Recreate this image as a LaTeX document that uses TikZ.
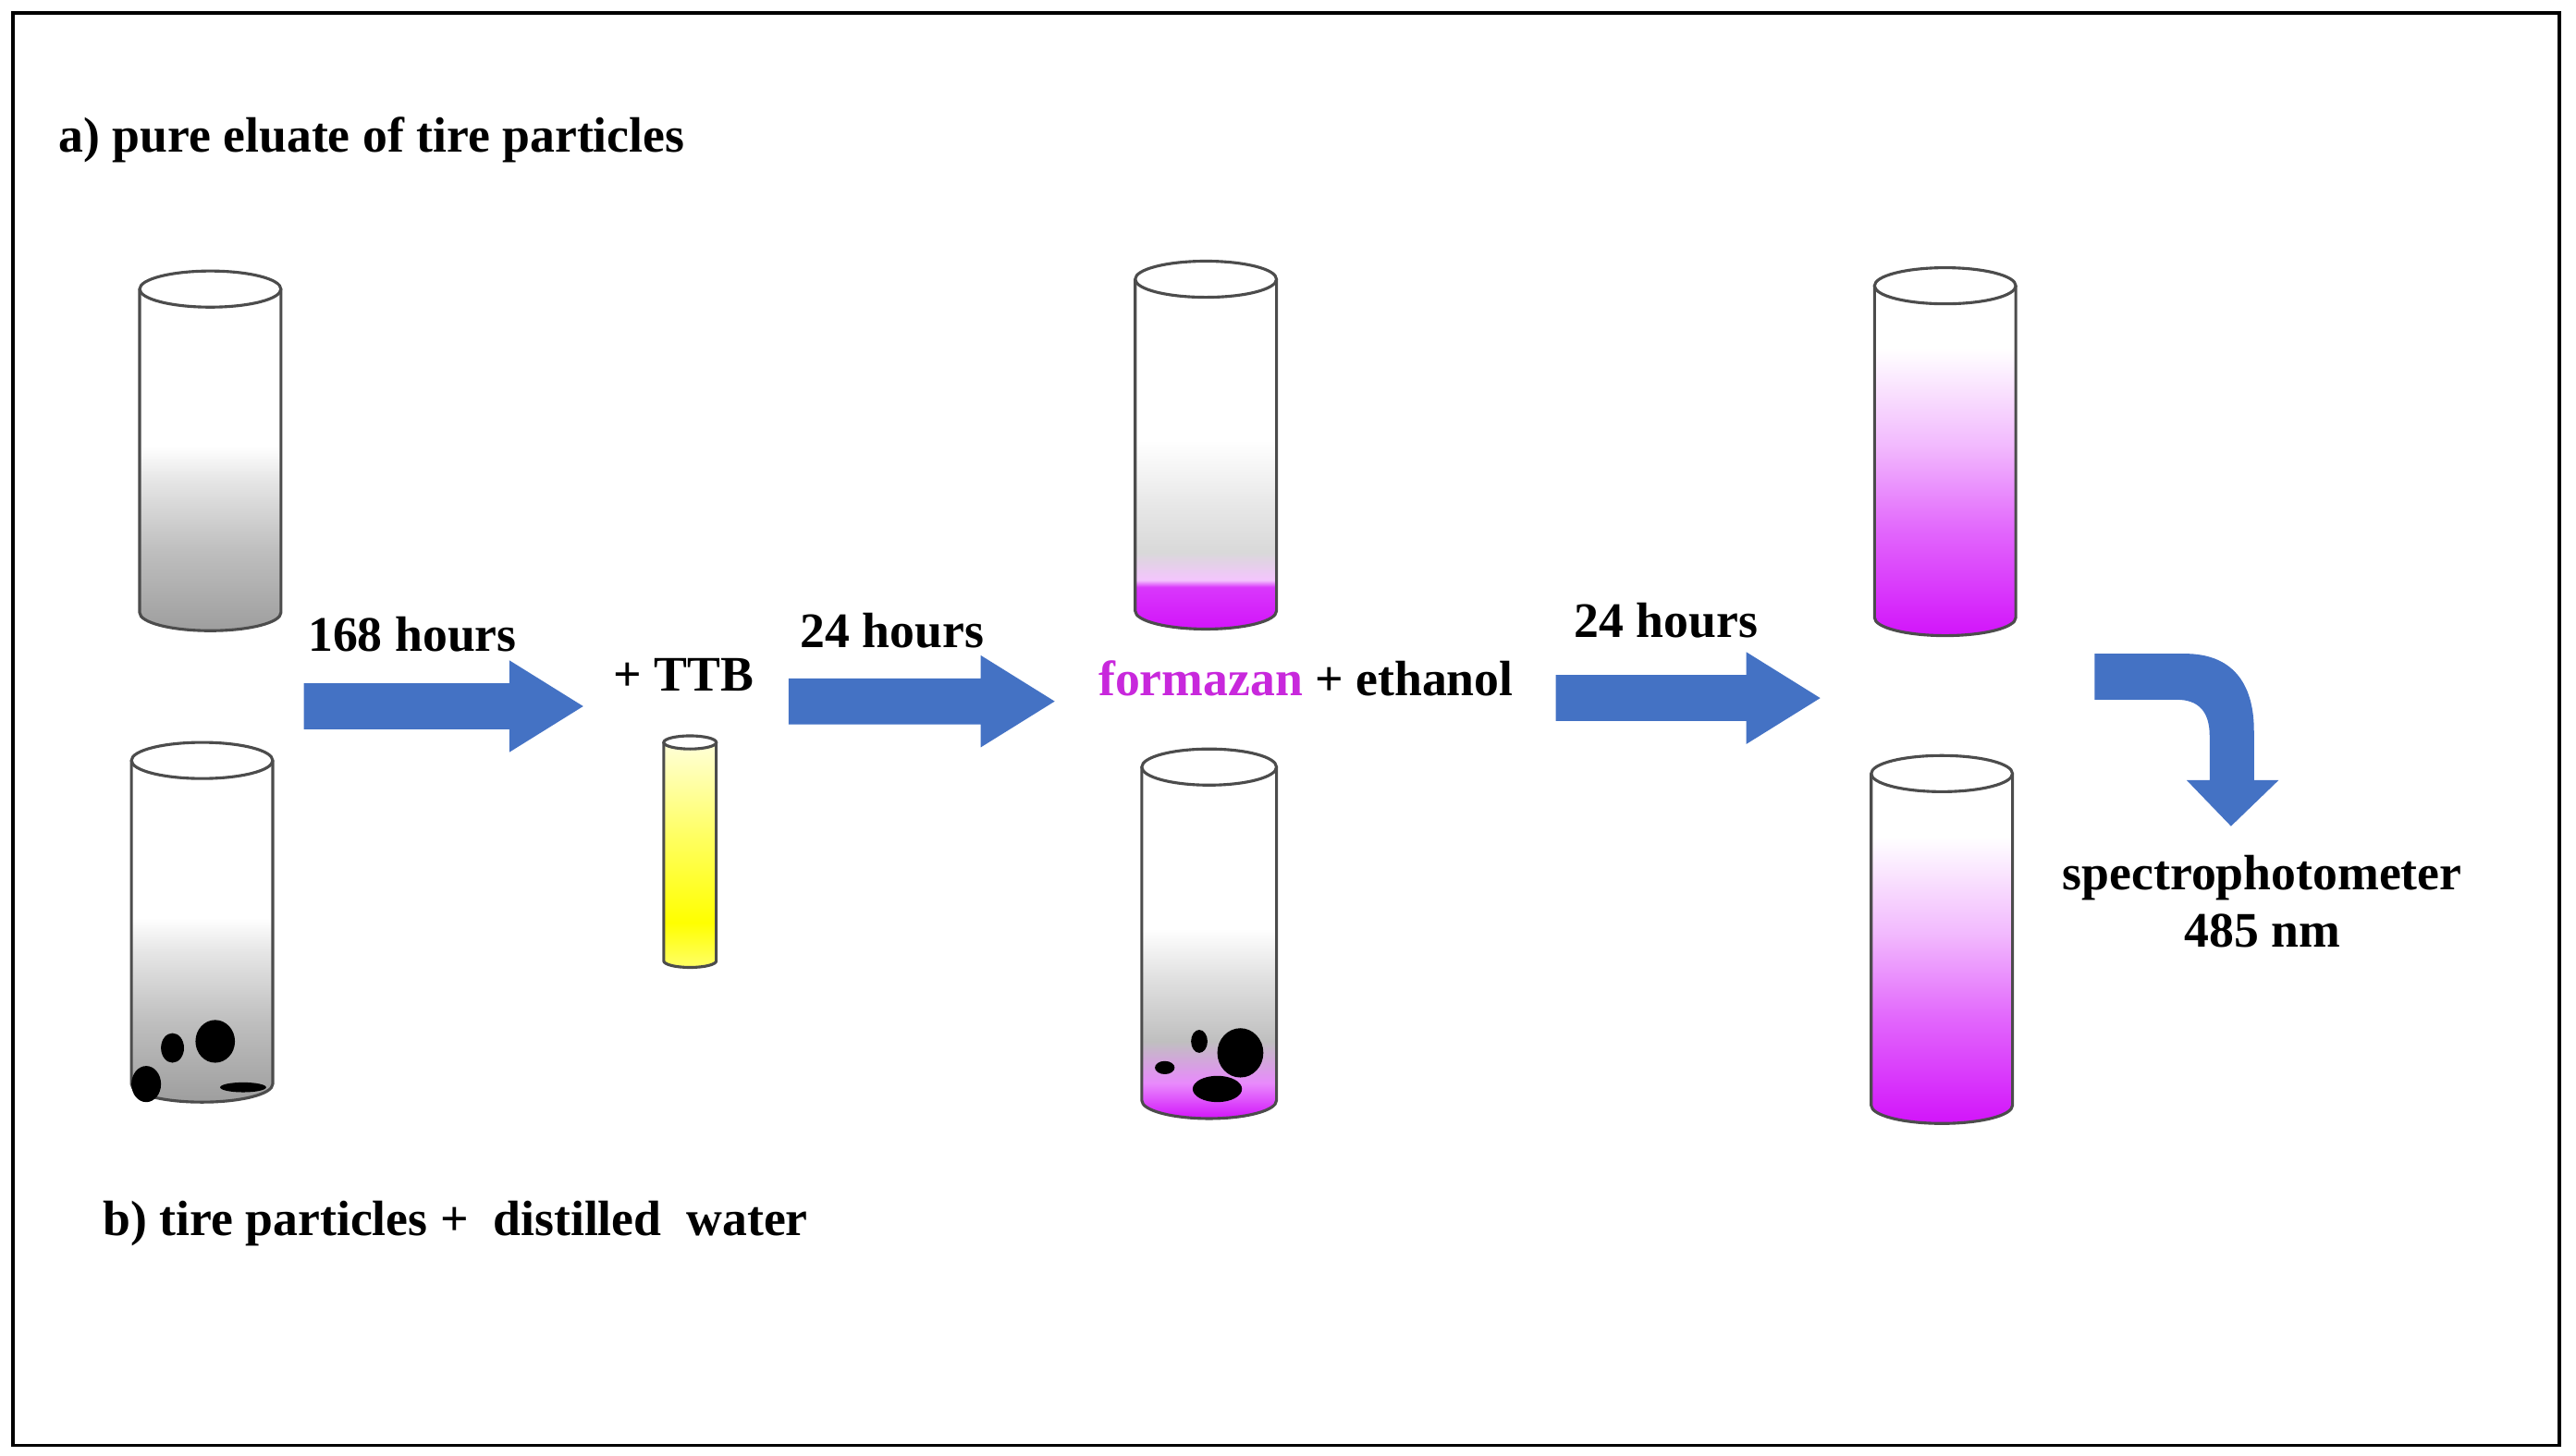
\documentclass[tikz,border=0pt]{standalone}
\usepackage{fontspec}
\setmainfont{Liberation Serif}
\begin{document}
\definecolor{arrowblue}{RGB}{68,114,196}
\definecolor{mag}{RGB}{210,20,250}
\definecolor{formtxt}{RGB}{200,40,220}
\pgfdeclareverticalshading{grayfade}{100bp}{color(0bp)=(black!38);color(25bp)=(black!38);color(37bp)=(black!25);color(47bp)=(black!10);color(52bp)=(white);color(100bp)=(white)}
\pgfdeclareverticalshading{formfade}{100bp}{color(0bp)=(mag);color(25bp)=(mag);color(31bp)=(mag!85);color(32bp)=(mag!25);color(36bp)=(black!15);color(42bp)=(black!10);color(52bp)=(white);color(100bp)=(white)}
\pgfdeclareverticalshading{formfadeb}{100bp}{color(0bp)=(mag);color(25bp)=(mag);color(30bp)=(mag!50);color(36bp)=(black!25);color(45bp)=(black!12);color(52bp)=(white);color(100bp)=(white)}
\pgfdeclareverticalshading{magfade}{100bp}{color(0bp)=(mag);color(25bp)=(mag);color(40bp)=(mag!65);color(52bp)=(mag!30);color(66bp)=(white);color(100bp)=(white)}
\pgfdeclareverticalshading{yellowfade}{100bp}{color(0bp)=(yellow!60!white);color(25bp)=(yellow!60!white);color(35bp)=(yellow);color(55bp)=(yellow!60);color(75bp)=(yellow!15);color(100bp)=(yellow!15)}
\newcommand\mycyl[6]{% cx, top, bot, rx, ry, shading
  \shade[shading=#6] (#1-#4,#2) -- (#1-#4,#3) arc[start angle=180,end angle=0,x radius=#4,y radius=#5] -- (#1+#4,#2) -- cycle;
  \draw[black!70,line width=0.5pt] (#1-#4,#2) -- (#1-#4,#3) arc[start angle=180,end angle=0,x radius=#4,y radius=#5] -- (#1+#4,#2);
  \draw[black!70,line width=0.5pt,fill=white] (#1,#2) ellipse[x radius=#4,y radius=#5];}
\newcommand\blockarr[3]{% x1 x2 y
  \fill[arrowblue] (#1,#3-14) -- (#2-45,#3-14) -- (#2-45,#3-28) -- (#2,#3) -- (#2-45,#3+28) -- (#2-45,#3+14) -- (#1,#3+14) -- cycle;}
\begin{tikzpicture}[x=0.01cm,y=-0.01cm,
  lbl/.style={font=\fontsize{8.6}{9.9}\selectfont\bfseries, inner sep=0pt}]
\useasboundingbox (0,0) rectangle (1568,886);
\draw[line width=0.6pt] (8,8) rectangle (1558,880);
% texts
\node[lbl,anchor=west] (ta) at (35,85) {a) pure eluate of tire particles};
\node[lbl,anchor=west] (tb) at (62,745) {b) tire particles +\ \ distilled\ \ water};
\node[lbl] (t168) at (251,386) {168 hours};
\node[lbl] (tttb) at (416,411) {+ TTB};
\node[lbl] (t24a) at (543,384) {24 hours};
\node[lbl,anchor=west] (tform) at (668,413) {\textcolor{formtxt}{formazan} + ethanol};
\node[lbl] (t24b) at (1014,378) {24 hours};
\node[lbl,align=center] (tspec) at (1377,549) {spectrophotometer\\485 nm};
% cylinders
\mycyl{128}{176}{373}{43}{11}{grayfade}
\mycyl{123}{463}{660}{43}{11}{grayfade}
\fill (89,660) ellipse[x radius=9,y radius=11];
\fill (105,638) ellipse[x radius=7,y radius=9];
\fill (131,634) ellipse[x radius=12,y radius=13];
\fill (148,662) ellipse[x radius=14,y radius=3];
\mycyl{420}{452}{585}{16}{4}{yellowfade}
\mycyl{734}{170}{372}{43}{11}{formfade}
\mycyl{736}{467}{670}{41}{11}{formfadeb}
\fill (730,634) ellipse[x radius=5,y radius=7];
\fill (755,641) ellipse[x radius=14,y radius=15];
\fill (741,663) ellipse[x radius=15,y radius=8];
\fill (709,650) ellipse[x radius=6,y radius=4];
\mycyl{1184}{174}{376}{43}{11}{magfade}
\mycyl{1182}{471}{673}{43}{11}{magfade}
% arrows
\blockarr{185}{355}{430}
\blockarr{480}{642}{427}
\blockarr{947}{1108}{425}
\fill[arrowblue] (1275,398) -- (1330,398) .. controls (1358,398) and (1372,415) .. (1372,445) -- (1372,475) -- (1387,475) -- (1358,503) -- (1331,475) -- (1345,475) -- (1345,448) .. controls (1345,433) and (1338,426) .. (1325,426) -- (1275,426) -- cycle;
\end{tikzpicture}
\end{document}
